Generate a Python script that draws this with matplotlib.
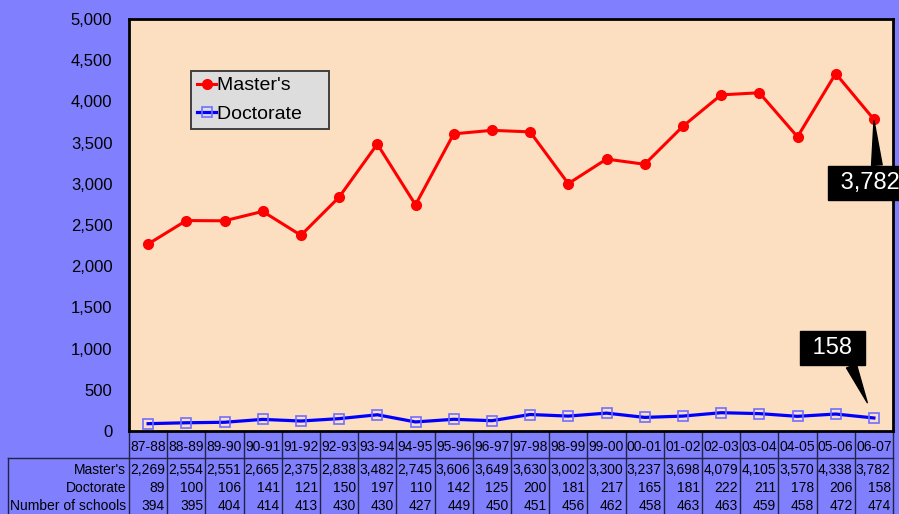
import matplotlib.pyplot as plt
import matplotlib.transforms as mtransforms

plt.rcParams['font.family'] = ['Liberation Sans', 'DejaVu Sans']

years = ['87-88', '88-89', '89-90', '90-91', '91-92', '92-93', '93-94', '94-95',
         '95-96', '96-97', '97-98', '98-99', '99-00', '00-01', '01-02', '02-03',
         '03-04', '04-05', '05-06', '06-07']
masters = [2269, 2554, 2551, 2665, 2375, 2838, 3482, 2745, 3606, 3649,
           3630, 3002, 3300, 3237, 3698, 4079, 4105, 3570, 4338, 3782]
doctorate = [89, 100, 106, 141, 121, 150, 197, 110, 142, 125,
             200, 181, 217, 165, 181, 222, 211, 178, 206, 158]
schools = [394, 395, 404, 414, 413, 430, 430, 427, 449, 450,
           451, 456, 462, 458, 463, 463, 459, 458, 472, 474]
row_labels = ["Master's", "Doctorate", "Number of schools"]

W, H = 899, 514
BG = '#8080FF'
PLOT_BG = '#FCDEC1'

fig = plt.figure(figsize=(W / 100, H / 100), dpi=100)
fig.patch.set_facecolor(BG)


def fy(py):
    # pixel row -> figure fraction
    return 1 - py / H


def fx(px):
    return px / W


ax = fig.add_axes([fx(129), fy(431), fx(893) - fx(129), fy(19) - fy(431)])
ax.set_facecolor(PLOT_BG)
for s in ax.spines.values():
    s.set_linewidth(2)
    s.set_color('black')

x = list(range(len(years)))
ax.plot(x, masters, color='#FF0000', lw=2.2, marker='o', ms=7,
        mfc='#FF0000', mec='#FF0000', label="Master's", zorder=3)
ax.plot(x, doctorate, color='#0000FF', lw=2.3, marker='s', ms=7.5,
        mfc='none', mec='#6F6FFF', mew=1.2, label='Doctorate', zorder=3)

ax.set_xlim(-0.5, len(years) - 0.5)
ax.set_ylim(0, 5000)
ax.set_yticks(range(0, 5001, 500))
ax.set_yticklabels([f'{v:,}' for v in range(0, 5001, 500)], fontsize=12)
ax.tick_params(axis='y', length=0, pad=12)
ax.set_xticks([])

handles, labels = ax.get_legend_handles_labels()
leg = ax.legend(handles, [l + '    ' for l in labels], loc='upper left',
                bbox_to_anchor=(fx(191), fy(71)),
                bbox_transform=fig.transFigure, fontsize=14, frameon=True,
                fancybox=False, facecolor='#DDDDDD', edgecolor='#404040',
                framealpha=1, handlelength=1.0, handletextpad=0.05,
                borderpad=0.3, labelspacing=0.55, borderaxespad=0)
leg.get_frame().set_linewidth(1.4)

# callouts (the 3,782 box runs off the right edge, as in the original)
ax.annotate(f' {masters[-1]:,} ', xy=(x[-1], masters[-1]), xytext=(18.9, 3010),
            fontsize=17, color='white', ha='center', va='center',
            bbox=dict(boxstyle='square,pad=0.27', fc='black', ec='black'),
            arrowprops=dict(arrowstyle='wedge,tail_width=0.45', fc='black',
                            ec='black', relpos=(0.6, 1.0), shrinkA=0, shrinkB=1),
            annotation_clip=False, zorder=5)
ax.annotate(f' {doctorate[-1]:,} ', xy=(x[-1], doctorate[-1]), xytext=(17.92, 1007),
            fontsize=17, color='white', ha='center', va='center',
            bbox=dict(boxstyle='square,pad=0.27', fc='black', ec='black'),
            arrowprops=dict(arrowstyle='wedge,tail_width=0.45', fc='black',
                            ec='black', relpos=(0.8, 0.0), shrinkA=0, shrinkB=12),
            annotation_clip=False, zorder=5)

# data table under the axis
trans = mtransforms.blended_transform_factory(ax.transData, fig.transFigure)
lc = '#222244'
for i in range(len(years) + 1):
    ax.plot([i - 0.5, i - 0.5], [fy(431), 0], color=lc, lw=1,
            transform=trans, clip_on=False)
fig.add_artist(plt.Line2D([fx(8), fx(893)], [fy(458), fy(458)], color=lc, lw=1))
fig.add_artist(plt.Line2D([fx(8), fx(8)], [fy(458), 0], color=lc, lw=1))

for i, yr in enumerate(years):
    ax.text(i, fy(447), yr, transform=trans, ha='center', va='center', fontsize=10)

rows = [masters, doctorate, schools]
row_y = [470, 488, 506]
for lab, vals, py in zip(row_labels, rows, row_y):
    fig.text(fx(126), fy(py), lab, ha='right', va='center', fontsize=10)
    for i, v in enumerate(vals):
        ax.text(i + 0.44, fy(py), f'{v:,}', transform=trans, ha='right',
                va='center', fontsize=10)

fig.savefig('out.png', dpi=100, facecolor=BG)
